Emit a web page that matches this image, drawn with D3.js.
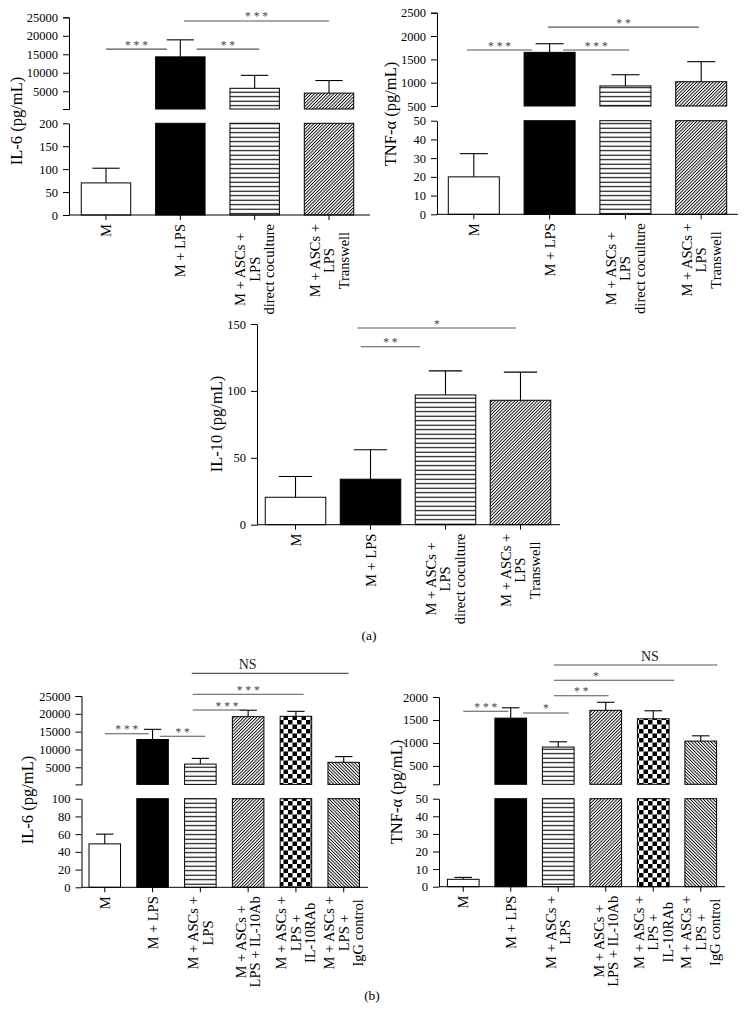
<!DOCTYPE html>
<html>
<head>
<meta charset="utf-8">
<script src="https://cdn.jsdelivr.net/npm/d3@7"></script>
<style>
    body { margin: 0; background: #fff; }
</style>
</head>
<body>
<script>
// ---- data ----
const catLinesA = [["M"], ["M + LPS"], ["M + ASCs +", "LPS", "direct coculture"], ["M + ASCs +", "LPS", "Transwell"]];
const catLinesB = [["M"], ["M + LPS"], ["M + ASCs +", "LPS"], ["M + ASCs +", "LPS + IL-10Ab"],
    ["M + ASCs +", "LPS +", "IL-10RAb"], ["M + ASCs +", "LPS +", "IgG control"]];
const patternsA = ["white", "black", "hlines", "diag"];
const patternsB = ["white", "black", "hlines", "diag", "check", "backdiag"];

const il6A = [70, 14300, 5800, 4500];
const il6AErr = [32, 4600, 3500, 3400];
const tnfA = [20, 1650, 930, 1020];
const tnfAErr = [12.4, 185, 240, 430];
const il10A = [20.5, 34, 97, 93];
const il10AErr = [15.5, 22, 18, 21];
const il6B = [49, 12800, 5900, 19200, 19300, 6400];
const il6BErr = [11, 2850, 1600, 1800, 1400, 1600];
const tnfB = [4.2, 1540, 910, 1710, 1525, 1040];
const tnfBErr = [1.1, 225, 115, 175, 175, 115];

const il6ALowTicks = [0, 50, 100, 150, 200];
const il6AUpTicks = [5000, 10000, 15000, 20000, 25000];
const tnfALowTicks = [0, 10, 20, 30, 40, 50];
const tnfAUpTicks = [500, 1000, 1500, 2000, 2500];
const il10ATicks = [0, 50, 100, 150];
const il6BLowTicks = [0, 20, 40, 60, 80, 100];
const il6BUpTicks = [5000, 10000, 15000, 20000, 25000];
const tnfBLowTicks = [0, 10, 20, 30, 40, 50];
const tnfBUpTicks = [500, 1000, 1500, 2000];

// significance bars: [from, to, level, label, label position]
const sigIl6A = [[0, 0.82, 16400, "* * *"], [1.22, 2.06, 16400, "* *"], [1.05, 3.0, 24000, "* * *"]];
const sigTnfA = [[-0.09, 0.77, 1700, "* * *"], [1.18, 2.05, 1700, "* * *"], [0.98, 2.97, 2190, "* *"]];
const sigIl10A = [[0.87, 1.66, 133, "* *"], [0.83, 2.94, 147, "*"]];
const sigIl6B = [[0, 0.92, 14420, "* * *"], [1.16, 2.1, 13690, "* *"], [1.84, 2.97, 21070, "* * *", 2.56],
    [1.84, 4.16, 25470, "* * *"], [1.82, 5.1, 31360, "NS", 2.99]];
const sigTnfB = [[0, 0.95, 1689, "* * *"], [1.26, 2.22, 1652, "*"], [1.91, 3.06, 2028, "* *"],
    [1.91, 4.44, 2363, "*", 2.79], [1.91, 5.35, 2696, "NS", 3.93]];

const FONT = "'Liberation Serif', 'Times New Roman', serif";

const svg = d3.select("body")
    .append("svg")
    .attr("width", 748)
    .attr("height", 1021)
    .style("background-color", "#fff");

// ---- fill patterns ----
const defs = svg.append("defs");

let p = defs.append("pattern").attr("id", "hlines").attr("patternUnits", "userSpaceOnUse")
    .attr("width", 8).attr("height", 4.5);
p.append("rect").attr("width", 8).attr("height", 4.5).attr("fill", "#fff");
p.append("line").attr("x1", 0).attr("x2", 8).attr("y1", 2.2).attr("y2", 2.2)
    .attr("stroke", "#000").attr("stroke-width", 1.1);

[["diag", 45], ["backdiag", -45]].forEach(([id, angle]) => {
    let q = defs.append("pattern").attr("id", id).attr("patternUnits", "userSpaceOnUse")
        .attr("width", 2.3).attr("height", 6).attr("patternTransform", "rotate(" + angle + ")");
    q.append("rect").attr("width", 2.3).attr("height", 6).attr("fill", "#fff");
    q.append("line").attr("x1", 1.15).attr("x2", 1.15).attr("y1", 0).attr("y2", 6)
        .attr("stroke", "#000").attr("stroke-width", 0.9);
});

p = defs.append("pattern").attr("id", "check").attr("patternUnits", "userSpaceOnUse")
    .attr("width", 9).attr("height", 9);
p.append("rect").attr("width", 9).attr("height", 9).attr("fill", "#fff");
p.append("rect").attr("width", 4.5).attr("height", 4.5).attr("fill", "#000");
p.append("rect").attr("x", 4.5).attr("y", 4.5).attr("width", 4.5).attr("height", 4.5).attr("fill", "#000");

function fillFor(name) {
    if (name === "white") return "#fff";
    if (name === "black") return "#000";
    return "url(#" + name + ")";
}

function styleAxis(sel) {
    sel.attr("font-family", FONT).attr("font-size", 12.5);
    sel.selectAll("text").attr("fill", "#000");
    sel.selectAll("line, path").attr("stroke", "#000").attr("stroke-width", 1);
}

function drawPanel(cfg) {
    let g = svg.append("g");
    let n = cfg.values.length;

    let x = d3.scaleBand().domain(d3.range(n)).range(cfg.band)
        .paddingInner(cfg.padIn).paddingOuter(cfg.padOut);
    let bw = x.bandwidth(), step = x.step();
    let xc = f => x(0) + bw / 2 + f * step;

    let yLow = d3.scaleLinear().domain(cfg.lowDomain).range([cfg.base, cfg.lowTop]);
    let yUp = cfg.upDomain ? d3.scaleLinear().domain(cfg.upDomain).range([cfg.upBottom, cfg.upTop]) : null;
    let lowMax = cfg.lowDomain[1];
    let yVal = v => (yUp && v > lowMax) ? yUp(v) : yLow(v);
    let yAnn = yUp || yLow;

    let items = cfg.values.map((v, i) => ({v: v, e: cfg.errors[i], i: i, pat: cfg.patterns[i]}));

    // error bars (drawn first so the bar outline sits on top)
    let cap = bw * 0.55;
    let eb = g.append("g").attr("stroke", "#000").attr("stroke-width", 1.1);
    eb.selectAll("line.v").data(items).join("line").attr("class", "v")
        .attr("x1", d => xc(d.i)).attr("x2", d => xc(d.i))
        .attr("y1", d => yVal(d.v)).attr("y2", d => yVal(d.v + d.e));
    eb.selectAll("line.c").data(items).join("line").attr("class", "c")
        .attr("x1", d => xc(d.i) - cap / 2).attr("x2", d => xc(d.i) + cap / 2)
        .attr("y1", d => yVal(d.v + d.e)).attr("y2", d => yVal(d.v + d.e));

    // lower parts of the bars
    g.append("g").selectAll("rect").data(items).join("rect")
        .attr("x", d => x(d.i)).attr("width", bw)
        .attr("y", d => yLow(Math.min(d.v, lowMax)))
        .attr("height", d => cfg.base - yLow(Math.min(d.v, lowMax)))
        .attr("fill", d => fillFor(d.pat))
        .attr("stroke", "#000").attr("stroke-width", 1);

    // upper parts (above the axis break)
    if (yUp) {
        g.append("g").selectAll("rect").data(items.filter(d => d.v > cfg.upDomain[0])).join("rect")
            .attr("x", d => x(d.i)).attr("width", bw)
            .attr("y", d => yUp(d.v))
            .attr("height", d => cfg.upBottom - yUp(d.v))
            .attr("fill", d => fillFor(d.pat))
            .attr("stroke", "#000").attr("stroke-width", 1);
    }

    // y axes
    g.append("g").attr("transform", "translate(" + cfg.band[0] + ",0)")
        .call(d3.axisLeft(yLow).tickValues(cfg.lowTicks).tickFormat(d3.format("d"))
            .tickSize(6).tickPadding(5).tickSizeOuter(0))
        .call(styleAxis);
    if (yUp) {
        g.append("g").attr("transform", "translate(" + cfg.band[0] + ",0)")
            .call(d3.axisLeft(yUp).tickValues(cfg.upTicks).tickFormat(d3.format("d"))
                .tickSize(6).tickPadding(5).tickSizeOuter(6))
            .call(styleAxis);
    }

    // x axis
    let xa = g.append("g").attr("transform", "translate(0," + cfg.base + ")")
        .call(d3.axisBottom(x).tickSize(5).tickFormat("").tickSizeOuter(0))
        .call(styleAxis);
    xa.select(".domain").remove();
    xa.append("line").attr("x1", cfg.band[0]).attr("x2", cfg.axisEnd)
        .attr("stroke", "#000").attr("stroke-width", 1);

    // category labels, rotated, lines centred on the longest one
    cfg.cats.forEach((lines, i) => {
        let lg = g.append("g")
            .attr("transform", "translate(" + xc(i) + "," + cfg.base + ") rotate(-90)")
            .attr("font-family", FONT).attr("font-size", 14.5);
        let texts = lines.map(t => lg.append("text").text(t)
            .attr("text-anchor", "middle").attr("dominant-baseline", "central"));
        let maxW = d3.max(texts, t => t.node().getComputedTextLength());
        texts.forEach((t, j) => {
            t.attr("x", -(9 + maxW / 2)).attr("y", (j - (lines.length - 1) / 2) * 14.5);
        });
    });

    // significance markers
    let sg = g.append("g");
    cfg.sig.forEach(s => {
        let yy = yAnn(s[2]);
        sg.append("line").attr("x1", xc(s[0])).attr("x2", xc(s[1]))
            .attr("y1", yy).attr("y2", yy)
            .attr("stroke", "#555").attr("stroke-width", 1.1);
        let isNS = s[3] === "NS";
        sg.append("text").text(s[3])
            .attr("x", xc(s[4] !== undefined ? s[4] : (s[0] + s[1]) / 2))
            .attr("y", isNS ? yy - 4 : yy - 0.5)
            .attr("text-anchor", "middle")
            .attr("font-family", FONT)
            .attr("font-size", isNS ? 14 : 11.5)
            .attr("fill", isNS ? "#222" : "#444");
    });

    // y label
    g.append("text").text(cfg.ylabel)
        .attr("transform", "translate(" + cfg.label[0] + "," + cfg.label[1] + ") rotate(-90)")
        .attr("text-anchor", "middle").attr("dominant-baseline", "central")
        .attr("font-family", FONT).attr("font-size", 16.5);
}

drawPanel({
    values: il6A, errors: il6AErr, cats: catLinesA, patterns: patternsA, sig: sigIl6A, ylabel: "IL-6 (pg/mL)",
    band: [69, 366], padIn: 0.335, padOut: 0.165, axisEnd: 370,
    base: 215, lowTop: 123.3, upBottom: 109, upTop: 17.3,
    lowDomain: [0, 200], upDomain: [200, 25000], lowTicks: il6ALowTicks, upTicks: il6AUpTicks,
    label: [16.5, 121]
});

drawPanel({
    values: tnfA, errors: tnfAErr, cats: catLinesA, patterns: patternsA, sig: sigTnfA, ylabel: "TNF-α (pg/mL)",
    band: [437, 738], padIn: 0.327, padOut: 0.149, axisEnd: 738,
    base: 214.3, lowTop: 120.7, upBottom: 106, upTop: 12.7,
    lowDomain: [0, 50], upDomain: [500, 2500], lowTicks: tnfALowTicks, upTicks: tnfAUpTicks,
    label: [390, 114]
});

drawPanel({
    values: il10A, errors: il10AErr, cats: catLinesA, patterns: patternsA, sig: sigIl10A, ylabel: "IL-10 (pg/mL)",
    band: [257, 559], padIn: 0.193, padOut: 0.11, axisEnd: 560,
    base: 524.7, lowTop: 324,
    lowDomain: [0, 150], lowTicks: il10ATicks,
    label: [216.7, 424]
});

drawPanel({
    values: il6B, errors: il6BErr, cats: catLinesB, patterns: patternsB, sig: sigIl6B, ylabel: "IL-6 (pg/mL)",
    band: [81.5, 367], padIn: 0.34, padOut: 0.157, axisEnd: 368,
    base: 887.3, lowTop: 798.7, upBottom: 784.4, upTop: 696,
    lowDomain: [0, 100], upDomain: [200, 25000], lowTicks: il6BLowTicks, upTicks: il6BUpTicks,
    label: [27, 800]
});

drawPanel({
    values: tnfB, errors: tnfBErr, cats: catLinesB, patterns: patternsB, sig: sigTnfB, ylabel: "TNF-α (pg/mL)",
    band: [439, 725], padIn: 0.333, padOut: 0.177, axisEnd: 725,
    base: 886.7, lowTop: 798.7, upBottom: 784.3, upTop: 697,
    lowDomain: [0, 50], upDomain: [100, 2000], lowTicks: tnfBLowTicks, upTicks: tnfBUpTicks,
    label: [396, 792]
});

// sub-figure letters
[["(a)", 369, 635], ["(b)", 372, 995]].forEach(([t, lx, ly]) => {
    svg.append("text").text(t).attr("x", lx).attr("y", ly)
        .attr("text-anchor", "middle").attr("dominant-baseline", "central")
        .attr("font-family", FONT).attr("font-size", 13.5);
});
</script>
</body>
</html>
